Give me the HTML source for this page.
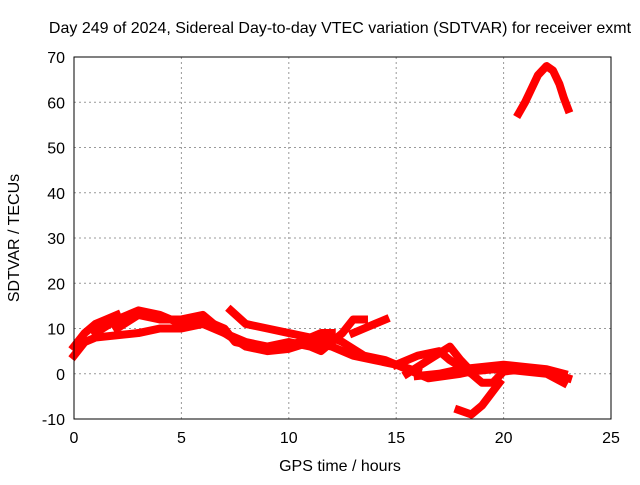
<!DOCTYPE html>
<html><head><meta charset="utf-8"><style>
body{margin:0;background:#fff}
svg text{font-family:"Liberation Sans",sans-serif;font-size:16px;fill:#000}
</style></head><body>
<svg id="c" width="640" height="480">
<text x="340" y="33" text-anchor="middle">Day 249 of 2024, Sidereal Day-to-day VTEC variation (SDTVAR) for receiver exmt</text>
<text x="340" y="471" text-anchor="middle">GPS time / hours</text>
<text transform="translate(19,238) rotate(-90)" text-anchor="middle">SDTVAR / TECUs</text>
<g id="grid"></g><g id="marks"></g>
<rect x="74" y="57" width="537" height="362" fill="none" stroke="#000" stroke-width="1"/>
</svg>
<script>
const xTicks=[0,5,10,15,20,25];
const yTicks=[-10,0,10,20,30,40,50,60,70];
const trackPeak=[[20.7,57.5],[21,60],[21.3,63],[21.6,66],[22,68],[22.3,67],[22.6,64],[22.8,61],[23,58.5]];
const track1=[[0,4],[0.5,7],[1,8],[2,8.5],[3,9],[4,10],[5,10],[6,11],[7,9],[8,6],[9,5],[10,5.5],[11,7],[12,6],[13,4],[14,3],[15,2],[16,0.5]];
const track2=[[0,6],[0.5,9],[1,11],[1.5,12],[2,13]];
const track3=[[1,9],[2,12],[3,14],[4,13],[5,11],[5.5,12],[6,12],[7,10],[7.5,7],[8.5,6],[9.5,5.5],[10.5,7],[11,8],[12,8],[12.5,7],[13.5,4],[14.5,3],[15.5,1],[16.5,-1],[18,0],[19,1],[20,1],[21,0.5],[22,0],[22.8,-2]];
const track4=[[2,10],[3,13],[4,12],[5,12],[6,13],[6.5,11],[7,9],[8,7],[9,6],[10,7],[11,6],[11.5,5],[12,7],[12.5,9],[13,12],[13.5,12]];
const track5=[[7.3,14],[8,11],[9,10],[10,9],[11,8],[11.5,9],[12,9]];
const track6=[[13,9],[13.5,10],[14,11],[14.5,12]];
const track7=[[15,2],[16,4],[17,5],[17.5,3],[18.5,0],[19,-2],[19.5,-2],[20,0.5],[21,1],[22,0.5],[23,-1]];
const track8=[[15.5,0],[16.5,3],[17.5,6],[18,3],[18.5,0.5],[19.5,1],[20.5,1.5]];
const track9=[[17.9,-8],[18.5,-9],[19,-7],[19.8,-2]];
const track10=[[16,-0.5],[17,0],[18,1],[19,1.5],[20,2],[21,1.5],[22,1],[22.8,0]];
const tracks=[trackPeak,track1,track2,track3,track4,track5,track6,track7,track8,track9,track10];
const X=h=>74+h*537/25, Y=v=>419-(v+10)*362/80;
const NS='http://www.w3.org/2000/svg';
const g=document.getElementById('grid'), m=document.getElementById('marks');
function mk(tag,at,par){const e=document.createElementNS(NS,tag);for(const k in at)e.setAttribute(k,at[k]);par.appendChild(e);return e;}
xTicks.forEach(t=>{
 const l=mk('line',{x1:X(t),x2:X(t),y1:57,y2:419,stroke:'#999','stroke-dasharray':'2,3'},g);
 
 
 const tx=mk('text',{x:X(t),y:443,'text-anchor':'middle'},g);tx.textContent=t;
 
 
});
yTicks.forEach(t=>{
 const l=mk('line',{x1:74,x2:611,y1:Y(t),y2:Y(t),stroke:'#999','stroke-dasharray':'2,3'},g);
 
 
 const tx=mk('text',{x:65,y:Y(t)+6,'text-anchor':'end'},g);tx.textContent=t;
 
 
});
tracks.forEach(tr=>{
 const p=mk('polyline',{points:tr.map(d=>X(d[0])+','+Y(d[1])).join(' '),fill:'none',stroke:'#f00','stroke-width':8,'stroke-linejoin':'round','stroke-linecap':'square'},m);
 
 
});
</script>
</body></html>
